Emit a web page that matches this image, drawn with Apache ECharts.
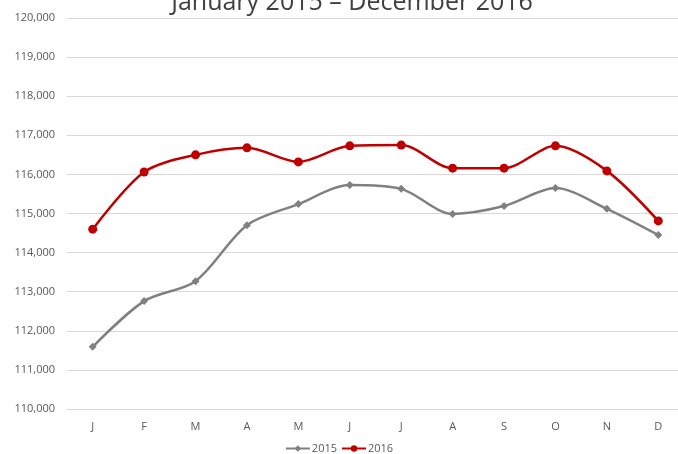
<!DOCTYPE html>
<html>
<head>
<meta charset="utf-8">
<script src="https://cdn.jsdelivr.net/npm/echarts@6/dist/echarts.min.js"></script>
<style>
  html, body { margin: 0; padding: 0; background: #fff; }
  #chart { width: 678px; height: 454px; }
</style>
</head>
<body>
<div id="chart"></div>
<script>
const months = ['J', 'F', 'M', 'A', 'M', 'J', 'J', 'A', 'S', 'O', 'N', 'D'];
const values2015 = [111590, 112760, 113270, 114700, 115240, 115730, 115630, 114990, 115190, 115650, 115120, 114450];
const values2016 = [114600, 116060, 116500, 116680, 116320, 116730, 116750, 116160, 116160, 116730, 116090, 114810];

const chart = echarts.init(document.getElementById('chart'));

const option = {
  animation: false,
  title: {
    text: 'January 2015 \u2013 December 2016',
    left: 347,
    textAlign: 'center',
    top: -15,
    textStyle: {
      fontFamily: 'Open Sans',
      fontSize: 25,
      fontWeight: 'normal',
      color: '#404040',
    },
  },
  grid: {
    left: 67,
    top: 18,
    width: 617,
    height: 391,
    outerBoundsMode: 'none',
  },
  legend: {
    top: 438,
    left: 'center',
    itemGap: 4,
    itemWidth: 24,
    itemHeight: 8,
    textStyle: { fontFamily: 'Open Sans', fontSize: 11, color: '#595959', padding: [0, 0, 0, -3] },
    data: ['2015', '2016'],
  },
  xAxis: {
    type: 'category',
    data: months,
    boundaryGap: true,
    axisLine: { show: false },
    axisTick: { show: false },
    axisLabel: { fontFamily: 'Open Sans', fontSize: 11, color: '#595959', margin: 12 },
  },
  yAxis: {
    type: 'value',
    min: 110000,
    max: 120000,
    interval: 1000,
    axisLine: { show: false },
    axisTick: { show: false },
    axisLabel: {
      fontFamily: 'Open Sans',
      fontSize: 11,
      color: '#595959',
      margin: 12,
      formatter: v => v.toLocaleString('en-US'),
    },
    splitLine: { lineStyle: { color: '#d9d9d9', width: 1 } },
  },
  series: [
    {
      name: '2015',
      type: 'line',
      data: values2015,
      smooth: 0.3,
      symbol: 'diamond',
      symbolSize: 8,
      lineStyle: { color: '#808080', width: 2.5 },
      itemStyle: { color: '#808080' },
    },
    {
      name: '2016',
      type: 'line',
      data: values2016,
      smooth: 0.3,
      symbol: 'circle',
      symbolSize: 9,
      lineStyle: { color: '#c00000', width: 2.5 },
      itemStyle: { color: '#c00000' },
    },
  ],
};

chart.setOption(option);
</script>
</body>
</html>
